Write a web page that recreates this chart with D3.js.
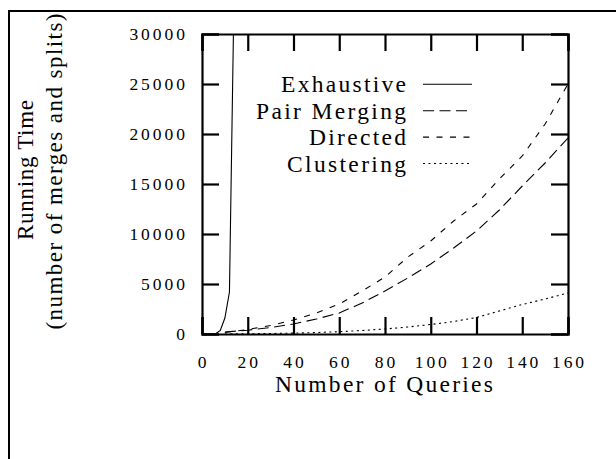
<!DOCTYPE html>
<html><head><meta charset="utf-8">
<script src="https://cdn.jsdelivr.net/npm/d3@7"></script>
<style>body{margin:0;background:#fff} svg{display:block}</style>
</head><body>
<svg id="chart" width="616" height="459"></svg>
<script>
// ---- data ----
const queries = [10,20,30,40,50,60,70,80,90,100,110,120,130,140,150,160];
const exhaustiveQ = [0,2,4,6,8,10,12,14];
const exhaustive = [0,0,0,20,350,1600,4200,34000];
const pairMerging = [200,380,650,1000,1500,2100,3100,4300,5600,7000,8600,10300,12400,14800,17100,19600];
const directed = [150,450,850,1400,2100,3000,4300,5700,7700,9300,11300,13000,15500,17800,21000,25000];
const clustering = [5,20,50,90,150,230,350,500,700,950,1250,1650,2300,2950,3500,4100];
const xTicks = [0,20,40,60,80,100,120,140,160];
const yTicks = [0,5000,10000,15000,20000,25000,30000];
const seriesNames = ["Exhaustive","Pair Merging","Directed","Clustering"];

// ---- layout ----
const svg = d3.select("#chart");
const L = 202, R = 568, T = 34, B = 334;
const x = d3.scaleLinear().domain([0,160]).range([L,R]);
const y = d3.scaleLinear().domain([0,30000]).range([B,T]);
const font = "Liberation Serif, Tinos, DejaVu Serif, serif";

// outer frame
svg.append("rect").attr("x",9).attr("y",11).attr("width",800).attr("height",800)
  .attr("fill","none").attr("stroke","#000").attr("stroke-width",2);

// clip
svg.append("clipPath").attr("id","clip").append("rect")
  .attr("x",L).attr("y",T).attr("width",R-L).attr("height",B-T);

const dashes = {"Exhaustive":null,"Pair Merging":"11,5.5","Directed":"6,7.5","Clustering":"2,3.5"};

const line = d3.line().x(d=>x(d[0])).y(d=>y(d[1]));
const series = [
  {name:"Exhaustive", pts: exhaustiveQ.map((q,i)=>[q,exhaustive[i]])},
  {name:"Pair Merging", pts: queries.map((q,i)=>[q,pairMerging[i]])},
  {name:"Directed", pts: queries.map((q,i)=>[q,directed[i]])},
  {name:"Clustering", pts: queries.map((q,i)=>[q,clustering[i]])}
];
const g = svg.append("g").attr("clip-path","url(#clip)");
series.forEach(s=>{
  g.append("path").attr("d",line(s.pts)).attr("fill","none")
    .attr("stroke","#000").attr("stroke-width",1.1)
    .attr("stroke-dasharray",dashes[s.name]);
});

// axes (inward ticks on all sides)
const tl = 17;
const axB = svg.append("g").attr("transform",`translate(0,${B})`)
  .call(d3.axisBottom(x).tickValues(xTicks).tickSize(-tl).tickFormat(""));
const axT = svg.append("g").attr("transform",`translate(0,${T})`)
  .call(d3.axisTop(x).tickValues(xTicks).tickSize(-tl).tickFormat(""));
const axL = svg.append("g").attr("transform",`translate(${L},0)`)
  .call(d3.axisLeft(y).tickValues(yTicks).tickSize(-tl).tickFormat(""));
const axR = svg.append("g").attr("transform",`translate(${R},0)`)
  .call(d3.axisRight(y).tickValues(yTicks).tickSize(-tl).tickFormat(""));
[axB,axT,axL,axR].forEach(a=>{
  a.selectAll("path.domain").attr("stroke","#000").attr("stroke-width",2.2);
  a.selectAll(".tick line").attr("stroke","#000").attr("stroke-width",2.2);
});

const pitch = 11.7, dig = 8.8;
function tlen(s){ return (s.length-1)*pitch + dig; }

// x tick labels
xTicks.forEach(v=>{
  const s = String(v);
  const t = svg.append("text").attr("x",x(v)).attr("y",368)
    .attr("text-anchor","middle").style("font-family",font).attr("font-size",17.5).text(s);
  if (s.length>1) t.attr("textLength",tlen(s)).attr("lengthAdjust","spacing");
});
// y tick labels
yTicks.forEach(v=>{
  const s = String(v);
  const t = svg.append("text").attr("x",185).attr("y",y(v)+6)
    .attr("text-anchor","end").style("font-family",font).attr("font-size",17.5).text(s);
  if (s.length>1) t.attr("textLength",tlen(s)).attr("lengthAdjust","spacing");
});

// axis titles
svg.append("text").attr("x",384).attr("y",392).attr("text-anchor","middle")
  .style("font-family",font).attr("font-size",23.5)
  .attr("textLength",218).attr("lengthAdjust","spacing").text("Number of Queries");
svg.append("text").attr("transform","translate(33,170) rotate(-90)")
  .attr("text-anchor","middle").style("font-family",font).attr("font-size",23)
  .attr("textLength",140).attr("lengthAdjust","spacing").text("Running Time");
svg.append("text").attr("transform","translate(62,171.5) rotate(-90)")
  .attr("text-anchor","middle").style("font-family",font).attr("font-size",23)
  .attr("textLength",316).attr("lengthAdjust","spacing").text("(number of merges and splits)");

// legend
const legW = {"Exhaustive":125,"Pair Merging":150,"Directed":97,"Clustering":119};
seriesNames.forEach((n,i)=>{
  const cy = 84.3 + i*26.4;
  svg.append("text").attr("x",406).attr("y",cy+8).attr("text-anchor","end")
    .style("font-family",font).attr("font-size",23.5)
    .attr("textLength",legW[n]).attr("lengthAdjust","spacing").text(n);
  svg.append("line").attr("x1",423).attr("x2",472).attr("y1",cy).attr("y2",cy)
    .attr("stroke","#000").attr("stroke-width",1.1).attr("stroke-dasharray",dashes[n]);
});
</script>
</body></html>
